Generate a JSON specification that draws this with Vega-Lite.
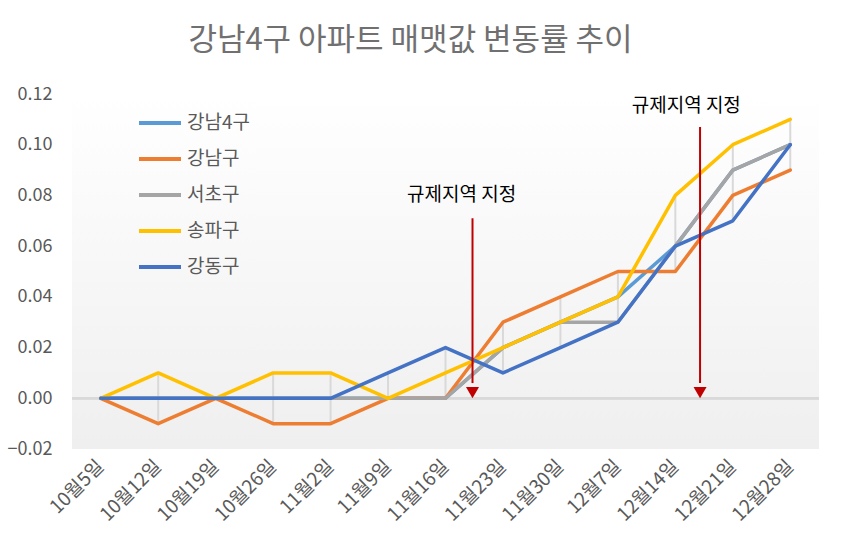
{
  "$schema": "https://vega.github.io/schema/vega-lite/v6.json",
  "autosize": {"type": "none"},
  "width": 747,
  "height": 355,
  "padding": {"left": 72, "top": 94, "right": 23, "bottom": 102},
  "background": "white",
  "title": {
    "text": "강남4구 아파트 매맷값 변동률 추이",
    "font": "Noto Sans CJK KR",
    "fontSize": 31,
    "fontWeight": "normal",
    "color": "#707070",
    "anchor": "middle",
    "frame": "group",
    "dx": -35,
    "offset": 28
  },
  "config": {
    "font": "Noto Sans CJK KR",
    "view": {
      "stroke": null,
      "fill": {"gradient": "linear", "x1": 0, "y1": 0, "x2": 0, "y2": 1,
        "stops": [{"offset": 0, "color": "#ffffff"}, {"offset": 1, "color": "#efefef"}]}
    }
  },
  "datasets": {
    "series": [
      {"date": "10월5일", "s": "강남4구", "v": 0},
      {"date": "10월12일", "s": "강남4구", "v": 0},
      {"date": "10월19일", "s": "강남4구", "v": 0},
      {"date": "10월26일", "s": "강남4구", "v": 0},
      {"date": "11월2일", "s": "강남4구", "v": 0},
      {"date": "11월9일", "s": "강남4구", "v": 0},
      {"date": "11월16일", "s": "강남4구", "v": 0},
      {"date": "11월23일", "s": "강남4구", "v": 0.02},
      {"date": "11월30일", "s": "강남4구", "v": 0.03},
      {"date": "12월7일", "s": "강남4구", "v": 0.04},
      {"date": "12월14일", "s": "강남4구", "v": 0.06},
      {"date": "12월21일", "s": "강남4구", "v": 0.09},
      {"date": "12월28일", "s": "강남4구", "v": 0.10},
      {"date": "10월5일", "s": "강남구", "v": 0},
      {"date": "10월12일", "s": "강남구", "v": -0.01},
      {"date": "10월19일", "s": "강남구", "v": 0},
      {"date": "10월26일", "s": "강남구", "v": -0.01},
      {"date": "11월2일", "s": "강남구", "v": -0.01},
      {"date": "11월9일", "s": "강남구", "v": 0},
      {"date": "11월16일", "s": "강남구", "v": 0},
      {"date": "11월23일", "s": "강남구", "v": 0.03},
      {"date": "11월30일", "s": "강남구", "v": 0.04},
      {"date": "12월7일", "s": "강남구", "v": 0.05},
      {"date": "12월14일", "s": "강남구", "v": 0.05},
      {"date": "12월21일", "s": "강남구", "v": 0.08},
      {"date": "12월28일", "s": "강남구", "v": 0.09},
      {"date": "10월5일", "s": "서초구", "v": 0},
      {"date": "10월12일", "s": "서초구", "v": 0},
      {"date": "10월19일", "s": "서초구", "v": 0},
      {"date": "10월26일", "s": "서초구", "v": 0},
      {"date": "11월2일", "s": "서초구", "v": 0},
      {"date": "11월9일", "s": "서초구", "v": 0},
      {"date": "11월16일", "s": "서초구", "v": 0},
      {"date": "11월23일", "s": "서초구", "v": 0.02},
      {"date": "11월30일", "s": "서초구", "v": 0.03},
      {"date": "12월7일", "s": "서초구", "v": 0.03},
      {"date": "12월14일", "s": "서초구", "v": 0.06},
      {"date": "12월21일", "s": "서초구", "v": 0.09},
      {"date": "12월28일", "s": "서초구", "v": 0.10},
      {"date": "10월5일", "s": "송파구", "v": 0},
      {"date": "10월12일", "s": "송파구", "v": 0.01},
      {"date": "10월19일", "s": "송파구", "v": 0},
      {"date": "10월26일", "s": "송파구", "v": 0.01},
      {"date": "11월2일", "s": "송파구", "v": 0.01},
      {"date": "11월9일", "s": "송파구", "v": 0},
      {"date": "11월16일", "s": "송파구", "v": 0.01},
      {"date": "11월23일", "s": "송파구", "v": 0.02},
      {"date": "11월30일", "s": "송파구", "v": 0.03},
      {"date": "12월7일", "s": "송파구", "v": 0.04},
      {"date": "12월14일", "s": "송파구", "v": 0.08},
      {"date": "12월21일", "s": "송파구", "v": 0.10},
      {"date": "12월28일", "s": "송파구", "v": 0.11},
      {"date": "10월5일", "s": "강동구", "v": 0},
      {"date": "10월12일", "s": "강동구", "v": 0},
      {"date": "10월19일", "s": "강동구", "v": 0},
      {"date": "10월26일", "s": "강동구", "v": 0},
      {"date": "11월2일", "s": "강동구", "v": 0},
      {"date": "11월9일", "s": "강동구", "v": 0.01},
      {"date": "11월16일", "s": "강동구", "v": 0.02},
      {"date": "11월23일", "s": "강동구", "v": 0.01},
      {"date": "11월30일", "s": "강동구", "v": 0.02},
      {"date": "12월7일", "s": "강동구", "v": 0.03},
      {"date": "12월14일", "s": "강동구", "v": 0.06},
      {"date": "12월21일", "s": "강동구", "v": 0.07},
      {"date": "12월28일", "s": "강동구", "v": 0.10}
    ],
    "notes": [
      {"pos": 6.47, "top": 0.071, "bottom": 0.006, "head": 0.0022, "tx": 6.28, "ty": 0.080, "label": "규제지역 지정"},
      {"pos": 10.43, "top": 0.107, "bottom": 0.006, "head": 0.0022, "tx": 10.19, "ty": 0.1151, "label": "규제지역 지정"}
    ]
  },
  "resolve": {"scale": {"x": "independent"}},
  "layer": [
    {
      "data": {"name": "series"},
      "encoding": {
        "x": {
          "field": "date", "type": "ordinal", "sort": null,
          "scale": {"type": "band", "paddingInner": 0, "paddingOuter": 0},
          "axis": {
            "title": null, "labelAngle": -45, "labelAlign": "right", "labelBaseline": "middle",
            "labelFontSize": 19, "labelColor": "#595959", "ticks": false, "domain": false,
            "labelPadding": 14, "labelFont": "Noto Sans CJK KR"
          }
        }
      },
      "layer": [
        {
          "mark": {"type": "rule", "color": "#d9d9d9", "strokeWidth": 2},
          "encoding": {
            "y": {"aggregate": "min", "field": "v", "type": "quantitative",
              "scale": {"domain": [-0.02, 0.12], "nice": false},
              "axis": {"title": null, "values": [-0.02, 0, 0.02, 0.04, 0.06, 0.08, 0.10, 0.12],
                "format": ".2f", "grid": false, "domain": false, "ticks": false,
                "labelFontSize": 18, "labelColor": "#595959", "labelPadding": 20, "labelFont": "Noto Sans CJK KR"}},
            "y2": {"aggregate": "max", "field": "v"}
          }
        },
        {
          "mark": {"type": "rule", "color": "#d9d9d9", "strokeWidth": 2},
          "encoding": {"y": {"datum": 0, "type": "quantitative"}, "x": null}
        },
        {
          "mark": {"type": "line", "strokeWidth": 3.5, "strokeCap": "round", "strokeJoin": "round"},
          "encoding": {
            "y": {"field": "v", "type": "quantitative"},
            "color": {
              "field": "s", "type": "nominal",
              "scale": {"domain": ["강남4구", "강남구", "서초구", "송파구", "강동구"],
                "range": ["#5B9BD5", "#ED7D31", "#A5A5A5", "#FFC000", "#4472C4"]},
              "legend": {
                "title": null, "orient": "none", "legendX": 65, "legendY": 6,
                "symbolType": "stroke", "symbolSize": 1764, "symbolStrokeWidth": 4,
                "labelFontSize": 19, "labelColor": "#595959", "labelFont": "Noto Sans CJK KR",
                "rowPadding": 3, "labelOffset": 4
              }
            }
          }
        }
      ]
    },
    {
      "data": {"name": "notes"},
      "encoding": {
        "x": {"field": "pos", "type": "quantitative", "scale": {"domain": [-0.5, 12.5], "nice": false, "zero": false}, "axis": null}
      },
      "layer": [
        {
          "mark": {"type": "rule", "color": "#C00000", "strokeWidth": 2},
          "encoding": {
            "y": {"field": "top", "type": "quantitative"},
            "y2": {"field": "bottom"}
          }
        },
        {
          "mark": {"type": "point", "shape": "triangle-down", "filled": true, "color": "#C00000", "opacity": 1, "size": 170},
          "encoding": {"y": {"field": "head", "type": "quantitative"}}
        },
        {
          "mark": {"type": "text", "fontSize": 19, "color": "#000000", "font": "Noto Sans CJK KR"},
          "encoding": {
            "x": {"field": "tx", "type": "quantitative"},
            "y": {"field": "ty", "type": "quantitative"},
            "text": {"field": "label"}
          }
        }
      ]
    }
  ]
}
